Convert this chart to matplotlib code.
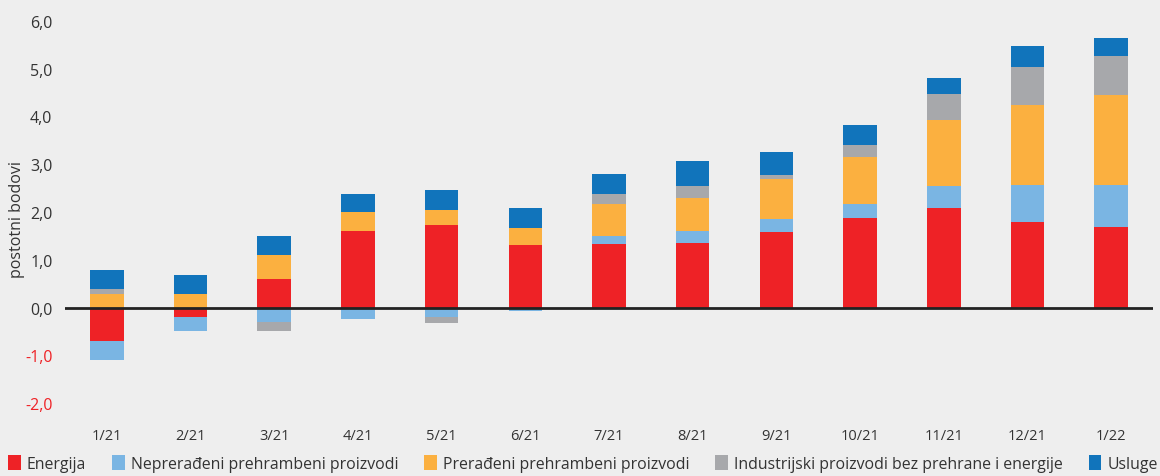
import numpy as np
import matplotlib
matplotlib.use("Agg")
import matplotlib.pyplot as plt
from matplotlib.patches import Patch

plt.rcParams['font.family'] = ['Open Sans', 'DejaVu Sans']

# Data
months = ["1/21", "2/21", "3/21", "4/21", "5/21", "6/21", "7/21",
          "8/21", "9/21", "10/21", "11/21", "12/21", "1/22"]
energija = [-0.70, -0.20, 0.59, 1.61, 1.73, 1.31, 1.33, 1.35, 1.59, 1.87, 2.09, 1.79, 1.69]
neprerad = [-0.40, -0.30, -0.30, -0.24, -0.20, -0.08, 0.17, 0.25, 0.27, 0.29, 0.45, 0.78, 0.88]
preradeni = [0.28, 0.28, 0.50, 0.39, 0.31, 0.36, 0.66, 0.69, 0.84, 0.99, 1.38, 1.67, 1.89]
industrija = [0.10, 0.00, -0.20, 0.00, -0.13, 0.00, 0.21, 0.26, 0.08, 0.25, 0.55, 0.80, 0.80]
usluge = [0.40, 0.40, 0.40, 0.37, 0.43, 0.41, 0.42, 0.51, 0.47, 0.42, 0.34, 0.43, 0.38]

series = [
    ("Energija", energija, "#ee2226"),
    ("Neprerađeni prehrambeni proizvodi", neprerad, "#7ab5e3"),
    ("Prerađeni prehrambeni proizvodi", preradeni, "#fbb040"),
    ("Industrijski proizvodi bez prehrane i energije", industrija, "#a7a8ab"),
    ("Usluge", usluge, "#1174bb"),
]

bg = "#eeeeee"
fig = plt.figure(figsize=(11.6, 4.77), dpi=100, facecolor=bg)
ax = fig.add_axes([65 / 1160, 1 - 413.6 / 477, (1153 - 65) / 1160, (413.6 - 12.4) / 477])
ax.set_facecolor(bg)

x = np.arange(len(months))
pos_bottom = np.zeros(len(months))
neg_bottom = np.zeros(len(months))
handles = []
for name, vals, col in series:
    v = np.array(vals)
    bottom = np.where(v >= 0, pos_bottom, neg_bottom)
    ax.bar(x, v, width=0.4, bottom=bottom, color=col, linewidth=0)
    pos_bottom += np.where(v > 0, v, 0)
    neg_bottom += np.where(v < 0, v, 0)
    handles.append(Patch(facecolor=col, label=name))

ax.axhline(0, color="#222222", linewidth=2)

ax.set_xlim(-0.5, 12.5)
ax.set_ylim(-2.2, 6.2)
ax.set_xticks(x)
ax.set_xticklabels(months)
yt = np.arange(-2, 7, 1)
ax.set_yticks(yt)
ax.set_yticklabels([f"{t:.1f}".replace(".", ",") for t in yt])
for lbl, t in zip(ax.get_yticklabels(), yt):
    lbl.set_color("#ee2226" if t < 0 else "#333333")
for lbl in ax.get_xticklabels():
    lbl.set_color("#333333")
ax.tick_params(axis="x", length=0, pad=11, labelsize=10.5)
ax.tick_params(axis="y", length=0, pad=9, labelsize=11.5)
for s in ax.spines.values():
    s.set_visible(False)

fig.text(17 / 1160, 1 - 220 / 477, "postotni bodovi", rotation=90,
         ha="center", va="center", fontsize=11.5, color="#333333")

fig.legend(handles=handles, loc="lower left", ncol=5, mode="expand",
           bbox_to_anchor=(8 / 1160, 4 / 477, 1150 / 1160, 22 / 477),
           frameon=False, fontsize=11.4, handlelength=0.8, handleheight=1.0,
           handletextpad=0.4, borderaxespad=0, borderpad=0,
           labelcolor="#333333")

fig.savefig("out.png", dpi=100, facecolor=bg)
